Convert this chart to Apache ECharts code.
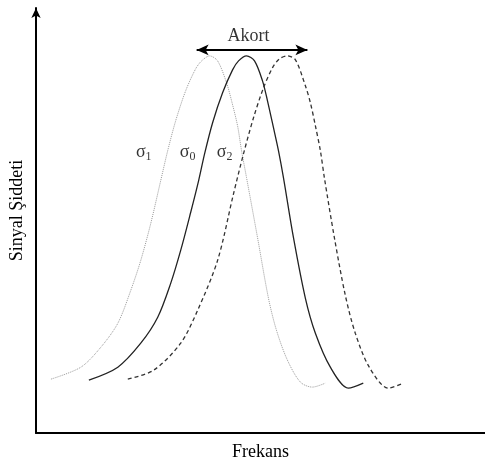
<!DOCTYPE html>
<html>
<head>
<meta charset="utf-8">
<script src="https://cdn.jsdelivr.net/npm/echarts@6/dist/echarts.min.js"></script>
<style>
  html, body { margin: 0; padding: 0; background: #fff; }
  #chart { width: 485px; height: 466px; }
</style>
</head>
<body>
<div id="chart"></div>
<script>
// curves: [frequency, intensity]
var sigma1Data = [
    [15, 54], [45, 66], [65, 86], [82, 110], [95, 143], [105, 173], [115, 210],
    [125, 253], [132, 283], [140, 313], [150, 343], [160, 365], [166, 373],
    [174, 378], [182, 373], [191, 351], [196, 333], [202, 308], [206, 283],
    [211, 256], [222, 196], [233, 135], [241, 103], [252, 73], [265, 51],
    [277, 46], [290, 50]
];
var sigma0Data = [
    [53, 53], [82, 66], [105, 90], [122, 116], [135, 150], [145, 183], [155, 221],
    [163, 253], [169, 280], [177, 311], [187, 341], [197, 364], [203, 373],
    [211, 378], [219, 373], [227, 353], [232, 333], [238, 306], [243, 283],
    [248, 256], [258, 196], [270, 135], [280, 100], [295, 66], [313, 45], [328, 50]
];
var sigma2Data = [
    [92, 54], [118, 63], [145, 90], [162, 123], [182, 173], [198, 240], [208, 280],
    [218, 316], [228, 346], [237, 366], [244, 375], [252, 378], [260, 374],
    [270, 348], [275, 331], [280, 308], [285, 283], [289, 256], [299, 196],
    [310, 138], [320, 100], [334, 66], [353, 45], [368, 50]
];
var akortArrow = [[161, 384], [272, 384]];
var labelData = [
    { value: [108, 281], text: '{s|σ}{sub|1}' },
    { value: [152, 281], text: '{s|σ}{sub|0}' },
    { value: [189, 281], text: '{s|σ}{sub|2}' },
    { value: [213, 398], text: '{a|Akort}' }
];

var chart = echarts.init(document.getElementById('chart'));
var serif = '"Liberation Serif", "DejaVu Serif", serif';

var option = {
    animation: false,
    backgroundColor: '#fff',
    grid: { left: 35, right: 0, top: 8, bottom: 32 },
    xAxis: {
        type: 'value',
        min: 0,
        max: 450,
        name: 'Frekans',
        nameLocation: 'middle',
        nameGap: 10,
        nameTextStyle: { fontFamily: serif, fontSize: 18, color: '#000' },
        axisLine: { lineStyle: { color: '#000', width: 2 } },
        axisTick: { show: false },
        axisLabel: { show: false },
        splitLine: { show: false }
    },
    yAxis: {
        type: 'value',
        min: 0,
        max: 426,
        name: 'Sinyal Şiddeti',
        nameLocation: 'middle',
        nameGap: 10,
        nameRotate: 90,
        nameTextStyle: { fontFamily: serif, fontSize: 18, color: '#000', padding: [0, 0, 0, 20] },
        axisLine: {
            lineStyle: { color: '#000', width: 2 },
            symbol: ['none', 'arrow'],
            symbolSize: [7, 10]
        },
        axisTick: { show: false },
        axisLabel: { show: false },
        splitLine: { show: false }
    },
    series: [
        {
            name: 'σ1',
            type: 'line',
            data: sigma1Data,
            smooth: 0.3,
            showSymbol: false,
            lineStyle: { color: '#9a9a9a', width: 1, type: [1, 1] }
        },
        {
            name: 'σ0',
            type: 'line',
            data: sigma0Data,
            smooth: 0.3,
            showSymbol: false,
            lineStyle: { color: '#222', width: 1.3 }
        },
        {
            name: 'σ2',
            type: 'line',
            data: sigma2Data,
            smooth: 0.3,
            showSymbol: false,
            lineStyle: { color: '#333', width: 1.3, type: [4, 3] }
        },
        {
            type: 'line',
            data: akortArrow,
            showSymbol: false,
            lineStyle: { width: 0 },
            markLine: {
                silent: true,
                symbol: ['arrow', 'arrow'],
                symbolSize: [8, 12],
                label: { show: false },
                lineStyle: { color: '#000', width: 1.8, type: 'solid' },
                data: [[{ coord: akortArrow[0] }, { coord: akortArrow[1] }]]
            }
        },
        {
            type: 'scatter',
            symbolSize: 0,
            silent: true,
            data: labelData,
            label: {
                show: true,
                position: 'inside',
                formatter: function (p) { return p.data.text; },
                rich: {
                    s: { fontFamily: serif, fontSize: 18, color: '#000' },
                    sub: { fontFamily: serif, fontSize: 12, color: '#000', padding: [8, 0, 0, 0] },
                    a: { fontFamily: serif, fontSize: 18, color: '#000' }
                }
            }
        }
    ]
};
chart.setOption(option);
</script>
</body>
</html>
